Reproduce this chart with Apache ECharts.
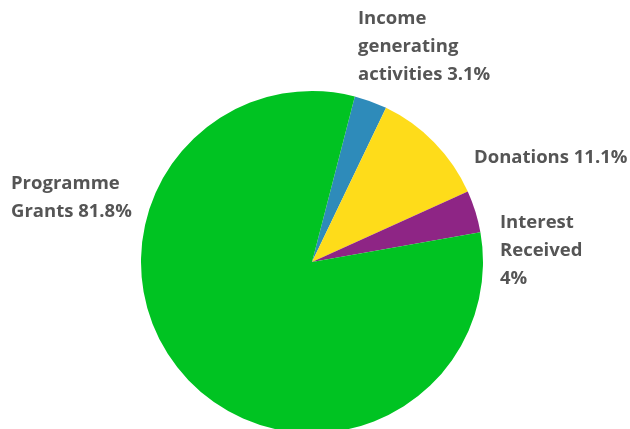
<!DOCTYPE html>
<html><head><meta charset="utf-8">
<script src="https://cdn.jsdelivr.net/npm/echarts@6/dist/echarts.min.js"></script>
<style>html,body{margin:0;padding:0;background:#fff}#c{width:630px;height:429px}</style>
</head><body><div id="c"></div>
<script>
const categories = ['Income generating activities', 'Donations', 'Interest Received', 'Programme Grants'];
const values = [3.1, 11.1, 4, 81.8];
const labelTexts = ['Income\ngenerating\nactivities 3.1%', 'Donations 11.1%', 'Interest\nReceived\n4%', 'Programme\nGrants 81.8%'];
const colors = ['#2e8bba', '#fedc1a', '#8e2585', '#00c322'];
const labelPos = [[358, 47], [474, 158], [500, 251], [11, 198]];

const chart = echarts.init(document.getElementById('c'), null, {renderer: 'canvas'});
chart.setOption({
  animation: false,
  series: [{
    type: 'pie',
    center: [312, 262],
    radius: [0, 171],
    startAngle: 75.5,
    clockwise: true,
    data: categories.map((n, i) => ({name: n, value: values[i], itemStyle: {color: colors[i]}})),
    itemStyle: {borderWidth: 0},
    label: {
      show: true,
      position: 'outside',
      formatter: p => labelTexts[p.dataIndex],
      color: '#555555',
      fontFamily: 'Open Sans',
      fontWeight: 'bold',
      fontSize: 18.5,
      lineHeight: 28,
      align: 'left',
      overflow: 'none'
    },
    labelLine: {show: false},
    labelLayout: function (p) {
      const pos = labelPos[p.dataIndex];
      return {x: pos[0], y: pos[1], align: 'left', verticalAlign: 'middle'};
    }
  }]
});
</script></body></html>
